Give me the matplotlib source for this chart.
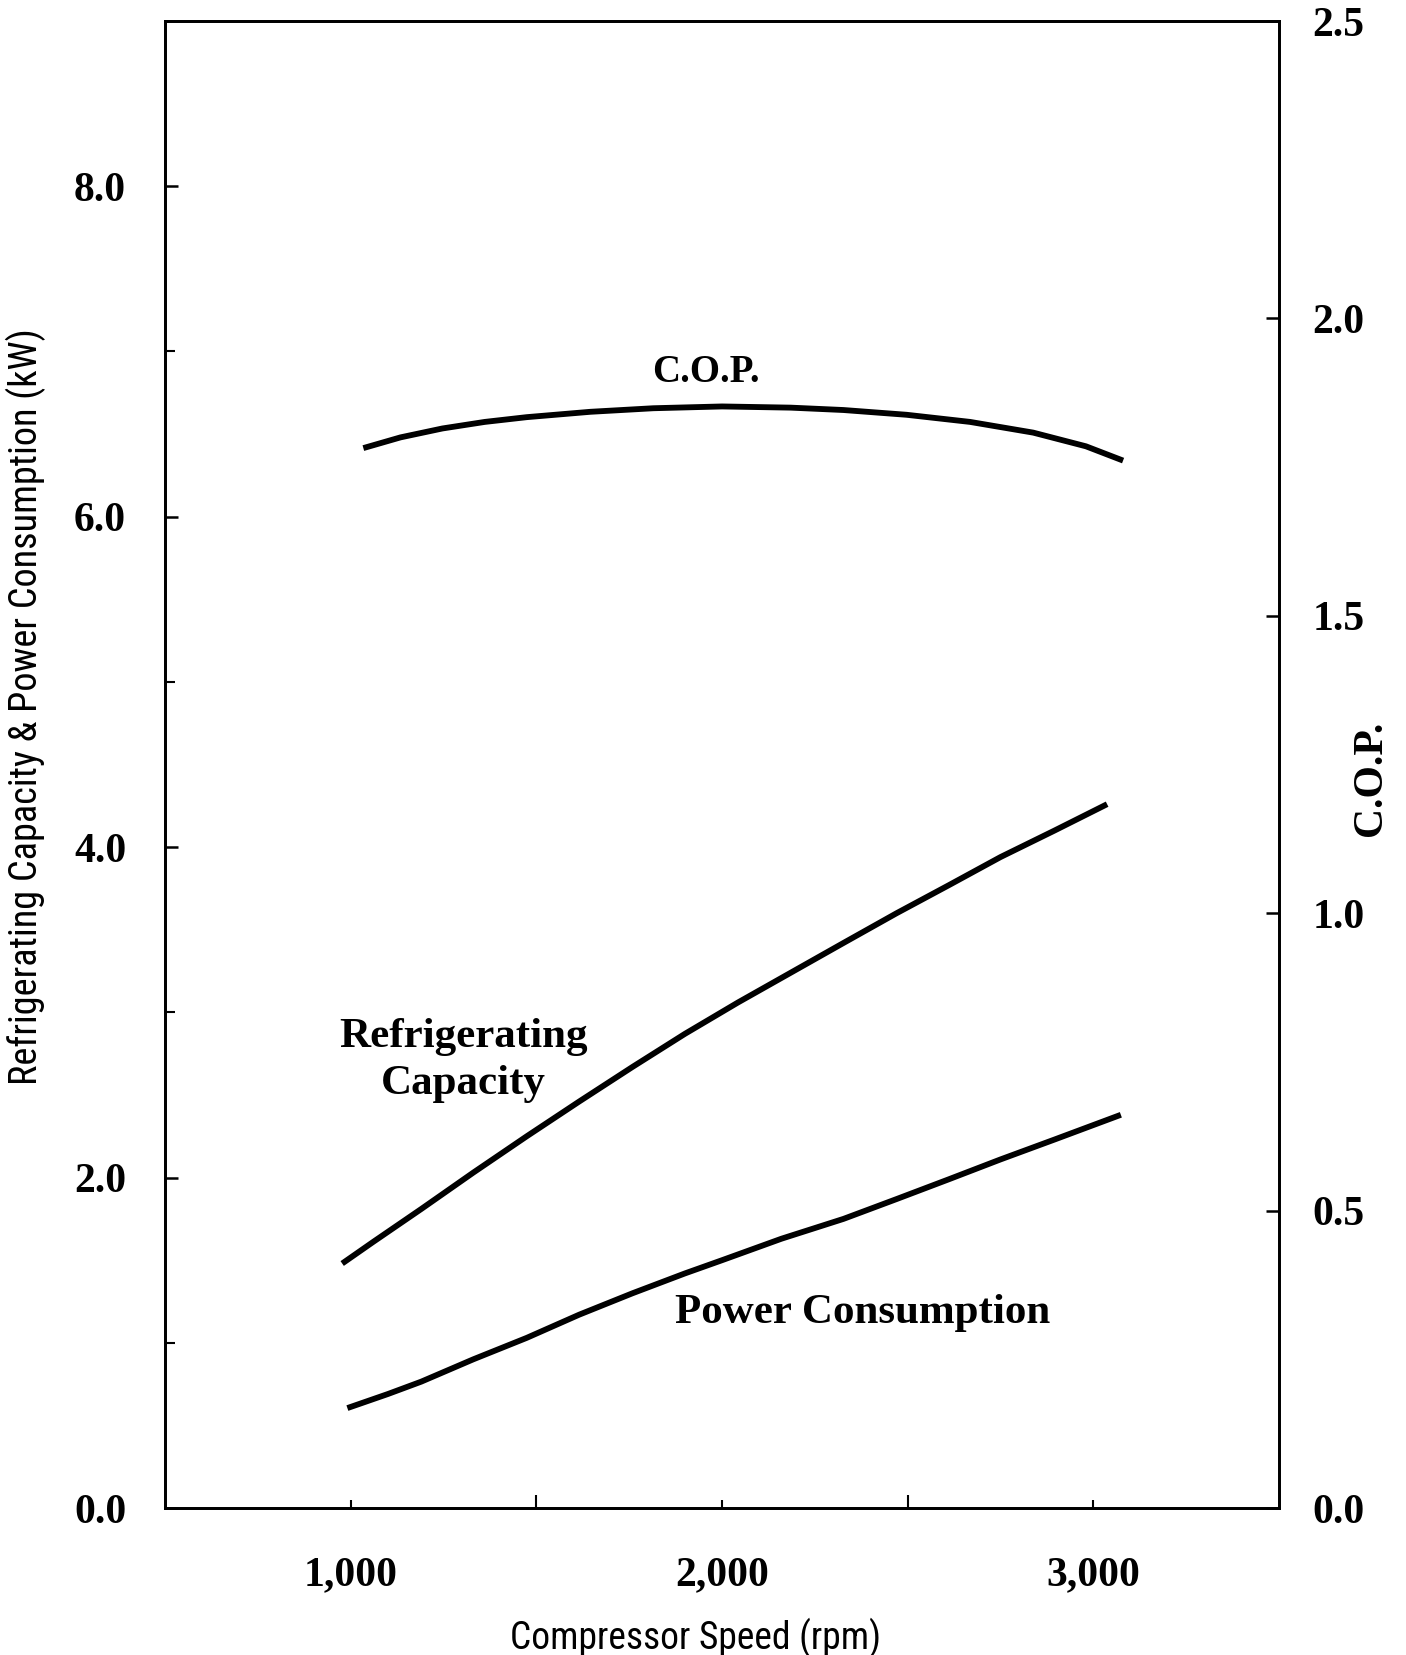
#!/usr/bin/env python3
"""
Compressor speed vs refrigerating capacity, power consumption and C.O.P.
"""
import matplotlib
matplotlib.use('Agg')
import matplotlib.pyplot as plt
from matplotlib import font_manager
from matplotlib.ticker import FixedLocator, NullFormatter

# Data
speed_cap = [977, 1060, 1190, 1330, 1474, 1615, 1759, 1900, 2043, 2185, 2327, 2470, 2611, 2750, 2895, 3037]
capacity = [1.48, 1.61, 1.81, 2.03, 2.25, 2.46, 2.67, 2.87, 3.06, 3.24, 3.42, 3.60, 3.77, 3.94, 4.10, 4.26]

speed_pow = [991, 1100, 1190, 1330, 1474, 1615, 1759, 1900, 2000, 2160, 2327, 2470, 2611, 2750, 2895, 3074]
power = [0.605, 0.69, 0.765, 0.90, 1.03, 1.17, 1.30, 1.42, 1.50, 1.63, 1.75, 1.87, 1.99, 2.11, 2.23, 2.38]

speed_cop = [1034, 1134, 1247, 1361, 1474, 1645, 1815, 2000, 2185, 2327, 2497, 2668, 2838, 2980, 3080]
cop = [1.782, 1.800, 1.815, 1.826, 1.834, 1.843, 1.849, 1.852, 1.850, 1.846, 1.838, 1.826, 1.808, 1.785, 1.761]

left_ticks = [0, 2, 4, 6, 8]
left_minor = [1, 3, 5, 7]
right_ticks = [0.0, 0.5, 1.0, 1.5, 2.0, 2.5]
x_major = [1000, 2000, 3000]
x_minor = [1500, 2500]


def pick_font(names, fallback):
    have = {f.name for f in font_manager.fontManager.ttflist}
    for n in names:
        if n in have:
            return n
    return fallback


serif = pick_font(['Liberation Serif', 'DejaVu Serif'], 'serif')
narrow = pick_font(['Liberation Sans Narrow', 'Roboto Condensed', 'Open Sans Condensed'], None)
if narrow is None:
    narrow_kw = dict(family='DejaVu Sans', stretch='condensed')
else:
    narrow_kw = dict(family=narrow)

fig = plt.figure(figsize=(14.06, 16.55), dpi=100)
ax = fig.add_axes([0.1174, 0.0888, 0.7923, 0.8985])
ax2 = ax.twinx()

lw = 4.2
ax.plot(speed_cap, capacity, color='black', lw=lw, solid_capstyle='butt')
ax.plot(speed_pow, power, color='black', lw=lw, solid_capstyle='butt')
ax2.plot(speed_cop, cop, color='black', lw=lw, solid_capstyle='butt')

ax.set_xlim(500, 3500)
ax.set_ylim(0, 9)
ax2.set_ylim(0, 2.5)

tick_font = dict(family=serif, weight='bold', size=30)

ax.xaxis.set_major_locator(FixedLocator(x_major))
ax.xaxis.set_minor_locator(FixedLocator(x_minor))
ax.set_xticklabels([f'{v:,}' for v in x_major], fontdict=tick_font)
ax.xaxis.set_minor_formatter(NullFormatter())

ax.yaxis.set_major_locator(FixedLocator(left_ticks))
ax.yaxis.set_minor_locator(FixedLocator(left_minor))
ax.set_yticklabels([f'{v:.1f}' for v in left_ticks], fontdict=tick_font)

ax2.yaxis.set_major_locator(FixedLocator(right_ticks))
ax2.set_yticklabels([f'{v:.1f}' for v in right_ticks], fontdict=tick_font)

ax.tick_params(axis='x', which='major', direction='in', length=6, width=1.5, pad=35)
ax.tick_params(axis='x', which='minor', direction='in', length=9.5, width=1.5)
ax.tick_params(axis='y', which='major', direction='in', length=9.5, width=1.8, pad=28)
ax.tick_params(axis='y', which='minor', direction='in', length=7, width=1.5)
ax2.tick_params(axis='y', which='major', direction='in', length=9.5, width=1.8, pad=24)

for a in (ax, ax2):
    for s in a.spines.values():
        s.set_linewidth(2.0)

ax.set_xlabel('Compressor Speed (rpm)', fontsize=27, **narrow_kw)
ax.xaxis.set_label_coords(0.476, -0.0735)
ax.set_ylabel('Refrigerating Capacity & Power Consumption (kW)', fontsize=27.5,
              **narrow_kw)
ax.yaxis.set_label_coords(-0.107, 0.539)
ax2.set_ylabel('C.O.P.', family=serif, weight='bold', size=30)
ax2.yaxis.set_label_coords(1.0655, 0.491)

label_font = dict(family=serif, weight='bold', size=31)
ax.text(1957, 6.87, 'C.O.P.', ha='center', va='center', family=serif,
        weight='bold', size=28)
ax.text(1304, 2.71, 'Refrigerating\nCapacity', ha='center', va='center',
        linespacing=1.3, fontdict=label_font)
ax.text(2378, 1.18, 'Power Consumption', ha='center', va='center', fontdict=label_font)

fig.savefig('out.png', dpi=100)
